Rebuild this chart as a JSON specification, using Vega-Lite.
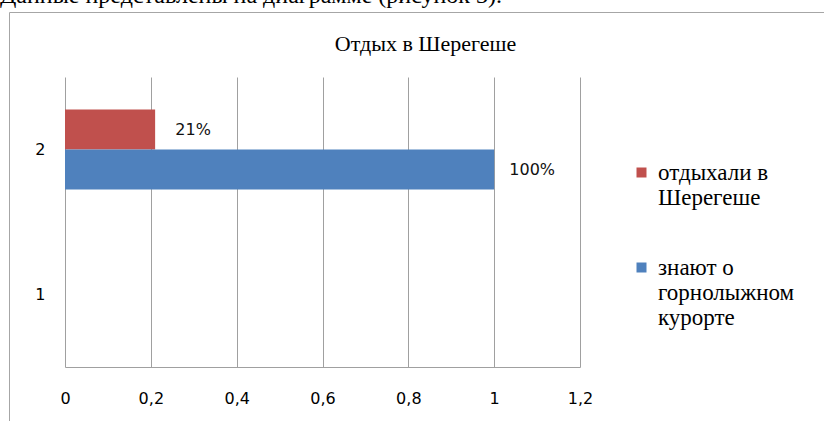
{
  "$schema": "https://vega.github.io/schema/vega-lite/v6.json",
  "autosize": {"type": "none"},
  "padding": {"left": 9, "top": 12, "right": 0, "bottom": 0},
  "width": 815,
  "height": 409,
  "background": "white",
  "config": {
    "view": {"stroke": "#a6a6a6", "strokeWidth": 1, "strokeDash": [815, 1224, 409, 0]}
  },
  "title": {
    "text": "Данные представлены на диаграмме (рисунок 3).",
    "anchor": "start",
    "frame": "group",
    "dx": -9,
    "dy": 15,
    "offset": 0,
    "baseline": "alphabetic",
    "font": "Times New Roman, Liberation Serif, serif",
    "fontSize": 24,
    "fontWeight": "normal",
    "color": "#000000"
  },
  "data": {
    "values": [
      {"cat": "2", "series": "отдыхали в Шерегеше", "value": 0.21},
      {"cat": "2", "series": "знают о горнолыжном курорте", "value": 1}
    ]
  },
  "encoding": {
    "y": {
      "field": "cat",
      "type": "nominal",
      "scale": {"domain": ["2", "1"], "range": [65, 355], "paddingInner": 0, "paddingOuter": 0},
      "axis": {
        "orient": "left",
        "offset": -56,
        "title": null,
        "domain": false,
        "ticks": false,
        "grid": false,
        "labelPadding": 20,
        "labelFont": "DejaVu Sans",
        "labelFontSize": 16,
        "labelColor": "#000000"
      }
    },
    "yOffset": {
      "field": "series",
      "type": "nominal",
      "scale": {"domain": ["отдыхали в Шерегеше", "знают о горнолыжном курорте"], "paddingInner": 0, "paddingOuter": 0.8125}
    },
    "x": {
      "field": "value",
      "type": "quantitative",
      "scale": {"domain": [0, 1.2], "range": [56, 571], "nice": false},
      "axis": {
        "orient": "bottom",
        "offset": -54,
        "values": [0, 0.2, 0.4, 0.6, 0.8, 1, 1.2],
        "labelExpr": "replace(format(datum.value, '.1~f'), '.', ',')",
        "grid": false,
        "domain": true,
        "domainColor": "#a0a0a0",
        "ticks": true,
        "tickSize": -290,
        "tickColor": "#a0a0a0",
        "labelPadding": 313,
        "labelFlush": false,
        "labelOverlap": false,
        "labelFont": "DejaVu Sans",
        "labelFontSize": 16,
        "labelColor": "#000000",
        "title": "Отдых в Шерегеше",
        "titleX": 416,
        "titleY": -317,
        "titleAlign": "center",
        "titleBaseline": "alphabetic",
        "titleAnchor": null,
        "titleFont": "Times New Roman, Liberation Serif, serif",
        "titleFontSize": 22,
        "titleFontWeight": "normal",
        "titleColor": "#000000"
      }
    }
  },
  "layer": [
    {
      "mark": {"type": "bar"},
      "encoding": {
        "color": {
          "field": "series",
          "type": "nominal",
          "scale": {"domain": ["отдыхали в Шерегеше", "знают о горнолыжном курорте"], "range": ["#C0504D", "#4F81BD"]},
          "legend": {
            "orient": "none",
            "legendX": 621,
            "legendY": 149,
            "title": null,
            "padding": 0,
            "symbolType": "square",
            "symbolSize": 100,
            "symbolStrokeWidth": 0,
            "symbolOpacity": 1,
            "labelOffset": 5,
            "labelLimit": 400,
            "labelFont": "Times New Roman, Liberation Serif, serif",
            "labelFontSize": 23,
            "labelColor": "#000000",
            "labelBaseline": "middle",
            "labelExpr": "datum.label == 'отдыхали в Шерегеше' ? ['отдыхали в', 'Шерегеше'] : ['знают о', 'горнолыжном', 'курорте']",
            "rowPadding": 46
          }
        }
      }
    },
    {
      "mark": {"type": "text", "align": "center", "baseline": "middle", "dx": 38, "font": "DejaVu Sans", "fontSize": 16, "color": "#111111"},
      "encoding": {
        "text": {"field": "value", "type": "quantitative", "format": ".0%"}
      }
    }
  ]
}
